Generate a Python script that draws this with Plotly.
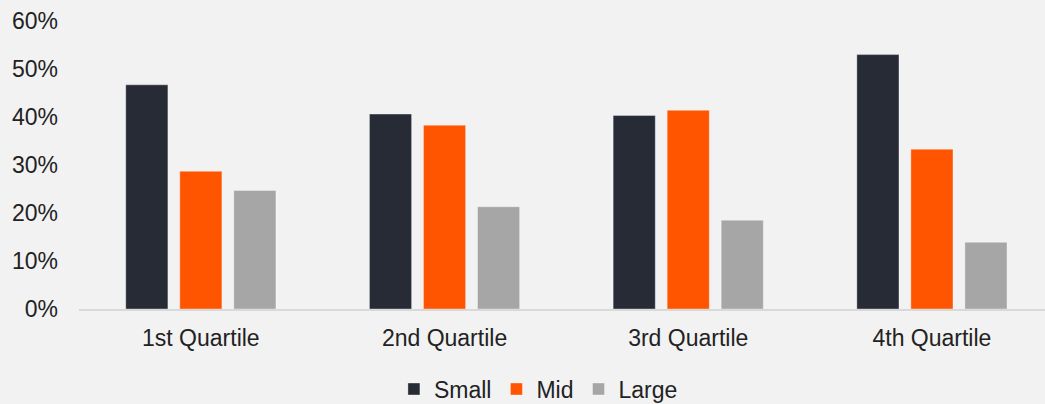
import plotly.graph_objects as go

# Share of companies by size within each quartile
quartiles = ["1st Quartile", "2nd Quartile", "3rd Quartile", "4th Quartile"]
small = [0.467, 0.406, 0.403, 0.530]
mid = [0.287, 0.383, 0.414, 0.333]
large = [0.247, 0.213, 0.185, 0.139]

series = [
    ("Small", small, "#262B36"),
    ("Mid", mid, "#FF5500"),
    ("Large", large, "#A6A6A6"),
]

fig = go.Figure()
for name, vals, color in series:
    fig.add_trace(go.Bar(
        x=quartiles, y=vals, name=name,
        marker=dict(color=color, line=dict(color="rgba(255,255,255,0.35)", width=1)),
    ))

font_family = "Liberation Sans, Arial, sans-serif"
fig.update_layout(
    width=1045, height=404,
    margin=dict(l=79, r=0, t=21, b=95, autoexpand=False),
    paper_bgcolor="#F2F2F2", plot_bgcolor="#F2F2F2",
    font=dict(family=font_family, size=23, color="#222222"),
    barmode="group", bargap=0.335, bargroupgap=0.22,
    showlegend=True,
    legend=dict(
        orientation="h", x=0.326, xanchor="left", y=-0.278, yanchor="middle",
        font=dict(size=23), traceorder="normal",
        bgcolor="rgba(0,0,0,0)",
    ),
    xaxis=dict(
        range=[-0.5, 3.464], showgrid=False, zeroline=False,
        showline=True, linecolor="#D9D9D9", linewidth=1.5,
        ticks="", ticklabelstandoff=8, fixedrange=True,
    ),
    yaxis=dict(
        range=[0, 0.6], dtick=0.1, tickformat=".0%", showgrid=False,
        zeroline=False, showline=False, ticks="", ticklabelstandoff=20,
        fixedrange=True,
    ),
)

fig.write_html("out.html")
